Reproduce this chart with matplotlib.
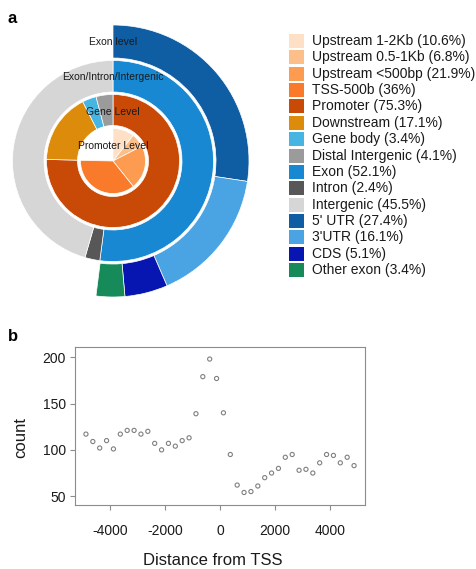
import numpy as np
import matplotlib.pyplot as plt
from matplotlib.patches import Rectangle

plt.rcParams['font.family'] = ['Liberation Sans', 'DejaVu Sans']
plt.rcParams['axes.unicode_minus'] = False

# --- panel a: nested annotation levels (percent of peaks) ---
promoter_labels = ["Upstream 1-2Kb", "Upstream 0.5-1Kb", "Upstream <500bp", "TSS-500b"]
promoter_pct = [10.6, 6.8, 21.9, 36]
promoter_colors = ["#FEE0C6", "#FDBF8A", "#FD9B50", "#F97A2A"]

gene_labels = ["Promoter", "Downstream", "Gene body", "Distal Intergenic"]
gene_pct = [75.3, 17.1, 3.4, 4.1]
gene_colors = ["#C94A06", "#DC8C0A", "#46B5E2", "#9B9B9B"]

region_labels = ["Exon", "Intron", "Intergenic"]
region_pct = [52.1, 2.4, 45.5]
region_colors = ["#1888D3", "#575757", "#D6D6D6"]

exon_labels = ["5' UTR", "3'UTR", "CDS", "Other exon"]
exon_pct = [27.4, 16.1, 5.1, 3.4]
exon_colors = ["#0F5DA3", "#4AA3E3", "#0716B0", "#178A5A"]

# --- panel b: peak counts per 250 bp bin around the TSS ---
tss_distance = np.arange(-4875, 4876, 250)
peak_count = [117, 109, 102, 110, 101, 117, 121, 121, 117, 120,
              107, 100, 107, 104, 110, 113, 139, 179, 198, 177,
              140, 95, 62, 54, 55, 61, 70, 75, 80, 92,
              95, 78, 79, 75, 86, 95, 94, 86, 92, 83]

W, H = 476, 569
fig = plt.figure(figsize=(W / 100, H / 100), dpi=100)


def px_axes(x0, y0, w, h):
    # axes placed by pixel box (top-left origin)
    return fig.add_axes([x0 / W, (H - y0 - h) / H, w / W, h / H])


def ring(ax, pct, colors, r_out, r_in):
    frac = np.asarray(pct, float) / 100
    ax.pie(frac, colors=colors, radius=r_out, startangle=90, counterclock=False,
           normalize=bool(frac.sum() > 0.995),
           wedgeprops=dict(width=r_out - r_in, edgecolor='white', linewidth=0.5))


# donut, in pixel units with the centre at (113, 161)
ax = px_axes(0, 0, 260, 300)
ring(ax, promoter_pct, promoter_colors, 32.5, 0)
ring(ax, gene_pct, gene_colors, 66.5, 35.5)
ring(ax, region_pct, region_colors, 100.5, 69)
ring(ax, exon_pct, exon_colors, 136, 103)
ax.set_xlim(-113, 147)
ax.set_ylim(-139, 161)
ax.set_aspect('equal')
ax.axis('off')

level_fs = 7.5
ax.text(0, 119, "Exon level", ha='center', va='center', fontsize=level_fs, color='#1a1a1a')
ax.text(0, 84, "Exon/Intron/Intergenic", ha='center', va='center', fontsize=level_fs, color='#1a1a1a')
ax.text(0, 49, "Gene Level", ha='center', va='center', fontsize=level_fs, color='#1a1a1a')
ax.text(0, 15, "Promoter Level", ha='center', va='center', fontsize=level_fs, color='#1a1a1a')

# --- panel b scatter ---
bx = px_axes(75, 347, 290, 158)
bx.scatter(tss_distance, peak_count, s=9, facecolors='none', edgecolors='#808080', linewidths=0.8)
bx.set_xlim(-5273, 5273)
bx.set_ylim(40.5, 211)
bx.set_xticks([-4000, -2000, 0, 2000, 4000])
bx.set_yticks([50, 100, 150, 200])
for s in bx.spines.values():
    s.set_color('#8c8c8c')
    s.set_linewidth(0.8)
bx.tick_params(axis='both', colors='#8c8c8c', labelcolor='#1a1a1a', labelsize=10,
               length=3.5, width=0.8)
bx.tick_params(axis='x', pad=10)
bx.tick_params(axis='y', pad=3)
bx.set_xlabel("Distance from TSS", fontsize=12, color='#1a1a1a')
bx.xaxis.set_label_coords((212.5 - 75) / 290, (505 - 553) / 158)
bx.set_ylabel("count", fontsize=12, color='#1a1a1a')
bx.yaxis.set_label_coords((28 - 75) / 290, (505 - 438) / 158)

# --- legend and panel letters on a pixel overlay ---
lax = fig.add_axes([0, 0, 1, 1])
lax.set_xlim(0, W)
lax.set_ylim(H, 0)
lax.axis('off')

legend_labels = promoter_labels + gene_labels + region_labels + exon_labels
legend_pct = promoter_pct + gene_pct + region_pct + exon_pct
legend_colors = promoter_colors + gene_colors + region_colors + exon_colors
row0, pitch = 41, 16.36
for i, (lab, p, c) in enumerate(zip(legend_labels, legend_pct, legend_colors)):
    cy = row0 + i * pitch
    lax.add_patch(Rectangle((289, cy - 7), 15, 14, facecolor=c, edgecolor='none'))
    lax.text(312, cy, f"{lab} ({p:g}%)", ha='left', va='center', fontsize=10, color='#1a1a1a')

lax.text(8, 23, "a", fontsize=12, fontweight='bold', ha='left', va='baseline')
lax.text(8, 341, "b", fontsize=12, fontweight='bold', ha='left', va='baseline')

fig.savefig("out.png", dpi=100)
